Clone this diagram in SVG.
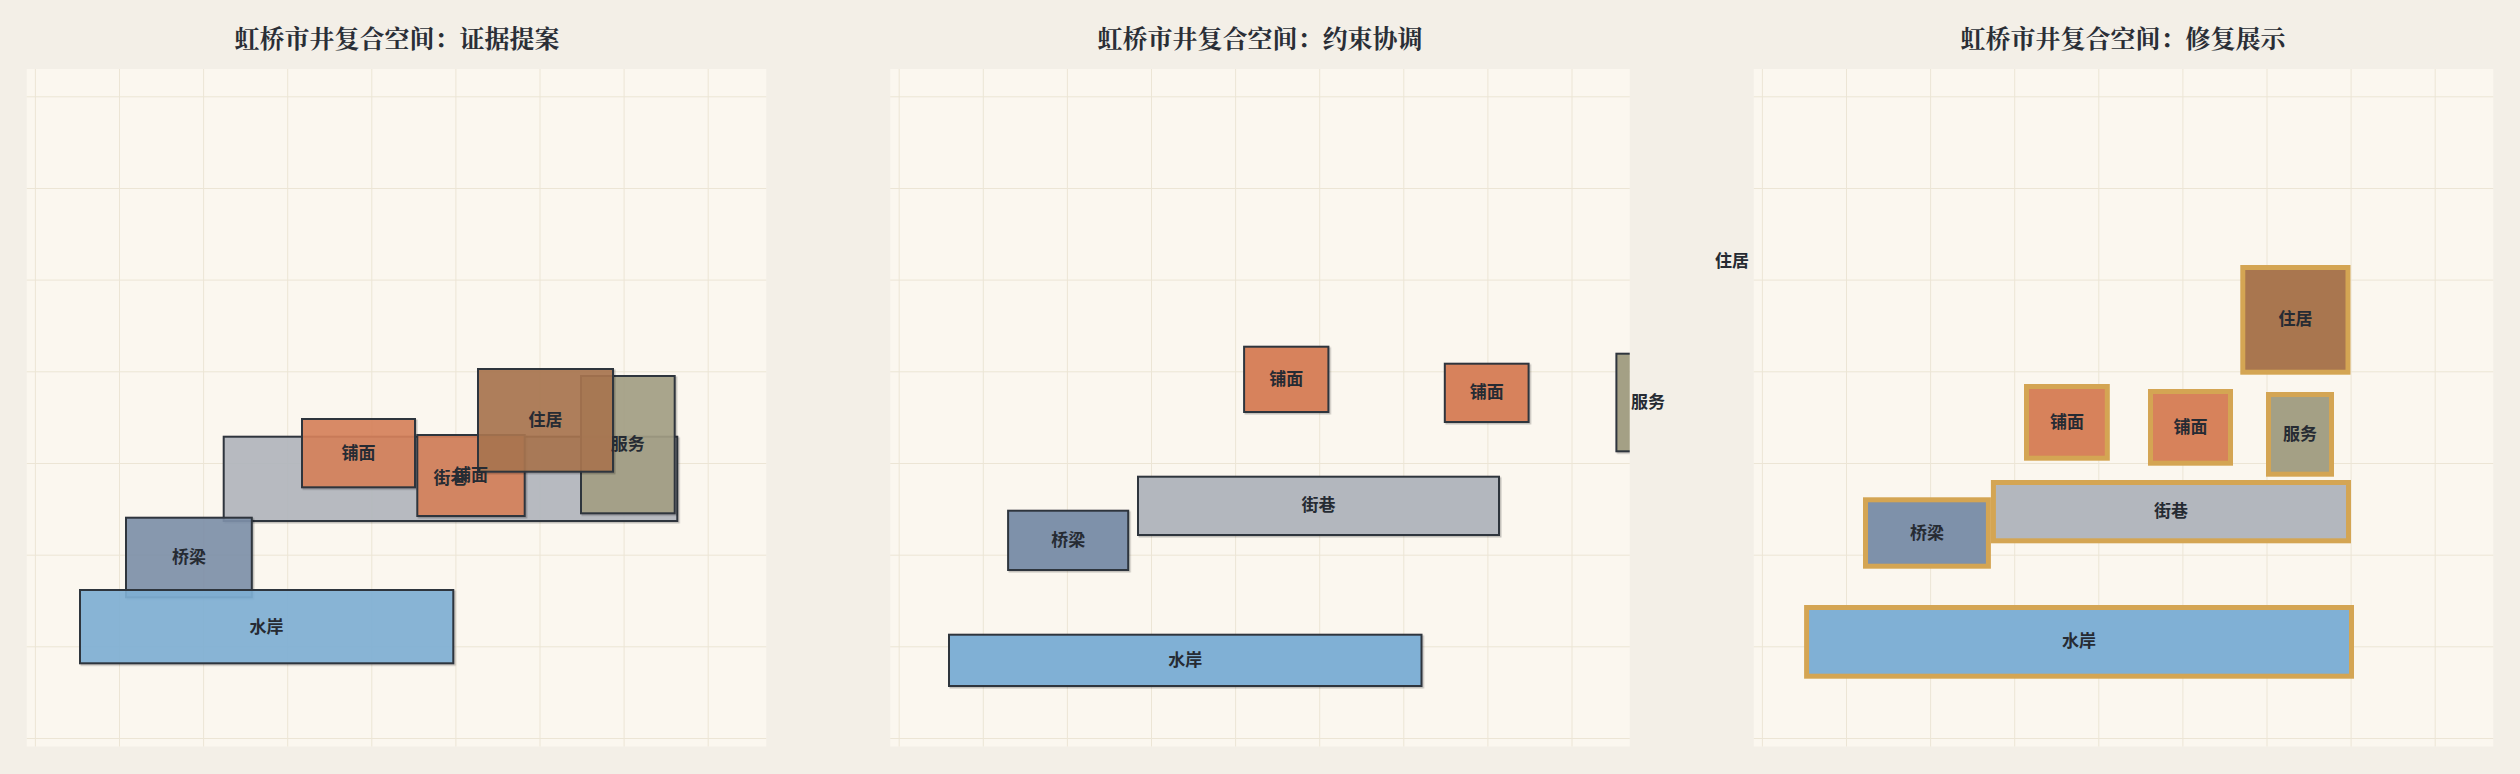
<svg xmlns="http://www.w3.org/2000/svg" width="2520" height="774" viewBox="0 0 2520 774">
<defs>
  <filter id="sh" x="-10%" y="-10%" width="130%" height="130%">
    <feDropShadow dx="1.5" dy="1.5" stdDeviation="0.6" flood-color="#000" flood-opacity="0.22"/>
  </filter>
  <clipPath id="clip2"><rect x="890.25" y="69" width="739.5" height="677.5"/></clipPath>
</defs>
<style>
  .bg { fill: #f3efe7; }
  .plot { fill: #fbf7ef; }
  .grid line { stroke: #ece5d5; stroke-width: 1; }
  .title { font-family: "Noto Serif CJK SC", "Noto Sans CJK SC", sans-serif; font-weight: 700; font-size: 25px; fill: #2a2e36; text-anchor: middle; }
  .lbl { font-family: "Noto Sans CJK SC", "Noto Sans", sans-serif; font-weight: 700; font-size: 17px; fill: #262b33; text-anchor: middle; }
  .n { stroke: #2e343d; stroke-width: 2; }
  .p1 .n { fill-opacity: 0.9; }
  .g { stroke: #d4a553; stroke-width: 5; }
  .water { fill: #80b0d5; }
  .bridge { fill: #7e91aa; }
  .street { fill: #b3b7be; }
  .shop { fill: #d7825b; }
  .house { fill: #a9764f; }
  .serv { fill: #a4a085; }
</style>
<rect class="bg" x="0" y="0" width="2520" height="774"/>

<!-- Panel 1 -->
<g id="panel1" class="p1">
  <text class="title" x="397" y="48">虹桥市井复合空间：证据提案</text>
  <rect class="plot" x="26.75" y="69" width="739.5" height="677.5"/>
  <g class="grid">
    <line x1="35.4" y1="69" x2="35.4" y2="746.5"/><line x1="119.5" y1="69" x2="119.5" y2="746.5"/><line x1="203.6" y1="69" x2="203.6" y2="746.5"/><line x1="287.7" y1="69" x2="287.7" y2="746.5"/><line x1="371.8" y1="69" x2="371.8" y2="746.5"/><line x1="455.9" y1="69" x2="455.9" y2="746.5"/><line x1="540" y1="69" x2="540" y2="746.5"/><line x1="624.1" y1="69" x2="624.1" y2="746.5"/><line x1="708.2" y1="69" x2="708.2" y2="746.5"/>
    <line x1="26.75" y1="96.8" x2="766.25" y2="96.8"/><line x1="26.75" y1="188.5" x2="766.25" y2="188.5"/><line x1="26.75" y1="280.1" x2="766.25" y2="280.1"/><line x1="26.75" y1="371.8" x2="766.25" y2="371.8"/><line x1="26.75" y1="463.5" x2="766.25" y2="463.5"/><line x1="26.75" y1="555.2" x2="766.25" y2="555.2"/><line x1="26.75" y1="646.8" x2="766.25" y2="646.8"/><line x1="26.75" y1="738.5" x2="766.25" y2="738.5"/>
  </g>
  <g id="p1-street"><rect class="n street" filter="url(#sh)" x="223.7" y="436.7" width="453.6" height="84.3"/></g>
  <g id="p1-bridge"><rect class="n bridge" filter="url(#sh)" x="126" y="517.7" width="125.8" height="79.6"/></g>
  <g id="p1-water"><rect class="n water" filter="url(#sh)" x="80" y="590" width="373.3" height="73.3"/></g>
  <g id="p1-shop1"><rect class="n shop" filter="url(#sh)" x="302" y="419" width="113" height="68.3"/></g>
  <g id="p1-shop2"><rect class="n shop" filter="url(#sh)" x="417.3" y="435" width="107.4" height="81"/></g>
  <g id="p1-serv"><rect class="n serv" filter="url(#sh)" x="581" y="376" width="93.7" height="137.3"/></g>
  <g id="p1-house"><rect class="n house" filter="url(#sh)" x="478" y="369" width="135" height="102.7"/></g>
  <g id="p1-labels">
    <text class="lbl" x="450.5" y="484.4">街巷</text>
    <text class="lbl" x="188.9" y="562.5">桥梁</text>
    <text class="lbl" x="266.6" y="632.5">水岸</text>
    <text class="lbl" x="358.5" y="458.7">铺面</text>
    <text class="lbl" x="471" y="481">铺面</text>
    <text class="lbl" x="627.8" y="450.2">服务</text>
    <text class="lbl" x="545.5" y="425.8">住居</text>
  </g>
</g>

<!-- Panel 2 -->
<g id="panel2">
  <text class="title" x="1260" y="48">虹桥市井复合空间：约束协调</text>
  <rect class="plot" x="890.25" y="69" width="739.5" height="677.5"/>
  <g class="grid">
    <line x1="899.2" y1="69" x2="899.2" y2="746.5"/><line x1="983.3" y1="69" x2="983.3" y2="746.5"/><line x1="1067.4" y1="69" x2="1067.4" y2="746.5"/><line x1="1151.5" y1="69" x2="1151.5" y2="746.5"/><line x1="1235.6" y1="69" x2="1235.6" y2="746.5"/><line x1="1319.7" y1="69" x2="1319.7" y2="746.5"/><line x1="1403.8" y1="69" x2="1403.8" y2="746.5"/><line x1="1487.9" y1="69" x2="1487.9" y2="746.5"/><line x1="1572" y1="69" x2="1572" y2="746.5"/>
    <line x1="890.25" y1="96.8" x2="1629.75" y2="96.8"/><line x1="890.25" y1="188.5" x2="1629.75" y2="188.5"/><line x1="890.25" y1="280.1" x2="1629.75" y2="280.1"/><line x1="890.25" y1="371.8" x2="1629.75" y2="371.8"/><line x1="890.25" y1="463.5" x2="1629.75" y2="463.5"/><line x1="890.25" y1="555.2" x2="1629.75" y2="555.2"/><line x1="890.25" y1="646.8" x2="1629.75" y2="646.8"/><line x1="890.25" y1="738.5" x2="1629.75" y2="738.5"/>
  </g>
  <g id="p2-water"><rect class="n water" filter="url(#sh)" x="949" y="634.7" width="472.5" height="51.3"/><text class="lbl" x="1185.3" y="665.8">水岸</text></g>
  <g id="p2-bridge"><rect class="n bridge" filter="url(#sh)" x="1008.1" y="510.7" width="120.1" height="59.3"/><text class="lbl" x="1068.2" y="545.8">桥梁</text></g>
  <g id="p2-street"><rect class="n street" filter="url(#sh)" x="1138" y="476.7" width="361" height="58.3"/><text class="lbl" x="1318.5" y="511.3">街巷</text></g>
  <g id="p2-shop1"><rect class="n shop" filter="url(#sh)" x="1244.1" y="346.7" width="84.3" height="65.3"/><text class="lbl" x="1286.3" y="384.9">铺面</text></g>
  <g id="p2-shop2"><rect class="n shop" filter="url(#sh)" x="1444.8" y="363.7" width="83.8" height="58.3"/><text class="lbl" x="1486.7" y="398.3">铺面</text></g>
  <g id="p2-serv"><g clip-path="url(#clip2)"><rect class="n serv" filter="url(#sh)" x="1616.4" y="353.7" width="63" height="97.6"/></g><text class="lbl" x="1647.9" y="408">服务</text></g>
</g>

<!-- Panel 3 -->
<g id="panel3">
  <text class="title" x="2123" y="48">虹桥市井复合空间：修复展示</text>
  <rect class="plot" x="1753.75" y="69" width="739.5" height="677.5"/>
  <g class="grid">
    <line x1="1762.4" y1="69" x2="1762.4" y2="746.5"/><line x1="1846.5" y1="69" x2="1846.5" y2="746.5"/><line x1="1930.6" y1="69" x2="1930.6" y2="746.5"/><line x1="2014.7" y1="69" x2="2014.7" y2="746.5"/><line x1="2098.8" y1="69" x2="2098.8" y2="746.5"/><line x1="2182.9" y1="69" x2="2182.9" y2="746.5"/><line x1="2267" y1="69" x2="2267" y2="746.5"/><line x1="2351.1" y1="69" x2="2351.1" y2="746.5"/><line x1="2435.2" y1="69" x2="2435.2" y2="746.5"/>
    <line x1="1753.75" y1="96.8" x2="2493.25" y2="96.8"/><line x1="1753.75" y1="188.5" x2="2493.25" y2="188.5"/><line x1="1753.75" y1="280.1" x2="2493.25" y2="280.1"/><line x1="1753.75" y1="371.8" x2="2493.25" y2="371.8"/><line x1="1753.75" y1="463.5" x2="2493.25" y2="463.5"/><line x1="1753.75" y1="555.2" x2="2493.25" y2="555.2"/><line x1="1753.75" y1="646.8" x2="2493.25" y2="646.8"/><line x1="1753.75" y1="738.5" x2="2493.25" y2="738.5"/>
  </g>
  <g id="p3-house-out"><text class="lbl" x="1732" y="267">住居</text></g>
  <g id="p3-water"><rect class="g water" x="1806.6" y="607.5" width="544.9" height="68.7"/><text class="lbl" x="2079" y="647.3">水岸</text></g>
  <g id="p3-bridge"><rect class="g bridge" x="1865.5" y="499.8" width="122.9" height="66.4"/><text class="lbl" x="1927" y="538.5">桥梁</text></g>
  <g id="p3-street"><rect class="g street" x="1993.4" y="482.5" width="355.1" height="58.3"/><text class="lbl" x="2171" y="517.2">街巷</text></g>
  <g id="p3-shop1"><rect class="g shop" x="2026.5" y="386.5" width="80.8" height="71.7"/><text class="lbl" x="2066.9" y="427.8">铺面</text></g>
  <g id="p3-shop2"><rect class="g shop" x="2150.5" y="391.5" width="80" height="71.7"/><text class="lbl" x="2190.5" y="432.8">铺面</text></g>
  <g id="p3-serv"><rect class="g serv" x="2268.5" y="394.5" width="63" height="79.7"/><text class="lbl" x="2300" y="439.8">服务</text></g>
  <g id="p3-house"><rect class="g house" x="2242.8" y="267.5" width="105.2" height="104.7"/><text class="lbl" x="2295.4" y="325.4">住居</text></g>
</g>
<g id="connectors"/>
</svg>
